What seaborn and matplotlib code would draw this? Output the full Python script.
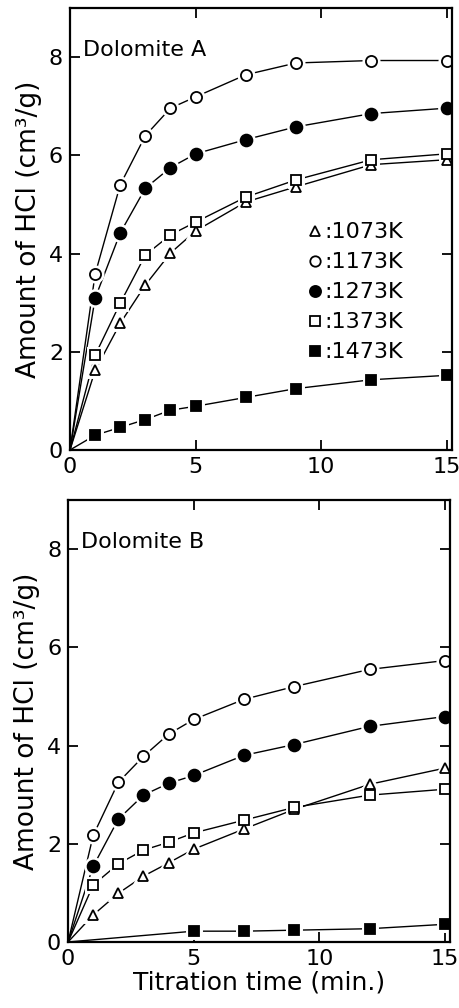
import matplotlib
matplotlib.use("Agg")
import matplotlib.pyplot as plt
import seaborn as sns
import pandas as pd
from matplotlib.lines import Line2D

sns.set_style("ticks")
plt.rcParams['font.family'] = ['DejaVu Sans']
plt.rcParams['text.color'] = 'k'
plt.rcParams['axes.labelcolor'] = 'k'

# Dolomite A
time_a = [0, 1, 2, 3, 4, 5, 7, 9, 12, 15]
a_1073 = [0, 1.62, 2.58, 3.36, 4.01, 4.46, 5.05, 5.36, 5.81, 5.91]
a_1173 = [0, 3.58, 5.40, 6.40, 6.96, 7.19, 7.64, 7.88, 7.93, 7.93]
a_1273 = [0, 3.09, 4.42, 5.33, 5.75, 6.03, 6.32, 6.58, 6.85, 6.96]
a_1373 = [0, 1.93, 2.99, 3.97, 4.38, 4.64, 5.15, 5.50, 5.91, 6.03]
a_1473 = [0, 0.30, 0.46, 0.62, 0.81, 0.89, 1.07, 1.25, 1.43, 1.52]

# Dolomite B
time_b = [0, 1, 2, 3, 4, 5, 7, 9, 12, 15]
b_1073 = [0, 0.55, 0.99, 1.34, 1.61, 1.89, 2.30, 2.70, 3.21, 3.54]
b_1173 = [0, 2.17, 3.25, 3.78, 4.23, 4.53, 4.94, 5.20, 5.55, 5.73]
b_1273 = [0, 1.54, 2.50, 2.99, 3.23, 3.39, 3.80, 4.02, 4.39, 4.59]
b_1373 = [0, 1.16, 1.59, 1.87, 2.03, 2.22, 2.48, 2.74, 2.99, 3.11]
time_b_1473 = [0, 5, 7, 9, 12, 15]
b_1473 = [0, 0.22, 0.22, 0.24, 0.27, 0.36]

temps = ['1073K', '1173K', '1273K', '1373K', '1473K']
# marker, filled, size
styles = {
    '1073K': ('^', False, 7),
    '1173K': ('o', False, 8),
    '1273K': ('o', True, 8.5),
    '1373K': ('s', False, 7.5),
    '1473K': ('s', True, 7.5),
}


def draw_series(ax, t, v, temp):
    marker, filled, ms = styles[temp]
    df = pd.DataFrame({'t': t, 'v': v})
    pts = df.iloc[1:]  # no marker at the origin
    sns.lineplot(data=df, x='t', y='v', ax=ax, color='k', lw=1.0, zorder=2)
    # white halo so the lines stop short of the symbols
    sns.lineplot(data=pts, x='t', y='v', ax=ax, linestyle='', marker=marker,
                 ms=ms, mfc='white', mec='white', mew=5, zorder=3)
    sns.lineplot(data=pts, x='t', y='v', ax=ax, linestyle='', marker=marker,
                 ms=ms, mfc='k' if filled else 'white', mec='k', mew=1.3,
                 color='k', zorder=4)


fig = plt.figure(figsize=(4.59, 10.08), dpi=100)
ax_a = fig.add_axes([0.1525, 0.5536, 0.832, 0.4385])
ax_b = fig.add_axes([0.1483, 0.0655, 0.832, 0.4385])

data_a = [(time_a, a_1073), (time_a, a_1173), (time_a, a_1273), (time_a, a_1373), (time_a, a_1473)]
data_b = [(time_b, b_1073), (time_b, b_1173), (time_b, b_1273), (time_b, b_1373), (time_b_1473, b_1473)]

for ax, data, name in [(ax_a, data_a, 'Dolomite A'), (ax_b, data_b, 'Dolomite B')]:
    for (t, v), temp in zip(data, temps):
        draw_series(ax, t, v, temp)
    ax.set_xlim(0, 15.2)
    ax.set_ylim(0, 9)
    ax.set_xticks([0, 5, 10, 15])
    ax.set_yticks([0, 2, 4, 6, 8])
    ax.tick_params(direction='in', length=7, width=1.3, top=True, right=True,
                   labelsize=16, pad=5, colors='k')
    for sp in ax.spines.values():
        sp.set_linewidth(1.6)
        sp.set_color('k')
        sp.set_zorder(5)
    ax.set_ylabel('Amount of HCl (cm³/g)', fontsize=19, labelpad=5)
    ax.set_xlabel('')
    ax.text(0.035, 0.905, name, transform=ax.transAxes, fontsize=16,
            ha='left', va='center')

ax_b.set_xlabel('Titration time (min.)', fontsize=18, labelpad=1)

handles = []
for temp in temps:
    marker, filled, ms = styles[temp]
    handles.append(Line2D([], [], linestyle='', marker=marker, ms=ms - 0.5,
                          mfc='k' if filled else 'white', mec='k', mew=1.3))
ax_a.legend(handles, [':' + t for t in temps], loc='upper left',
            bbox_to_anchor=(0.62, 0.515), frameon=False, fontsize=16,
            handlelength=0.7, handletextpad=0.1, labelspacing=0.45,
            borderpad=0, borderaxespad=0)

fig.savefig('out.png', dpi=100)
